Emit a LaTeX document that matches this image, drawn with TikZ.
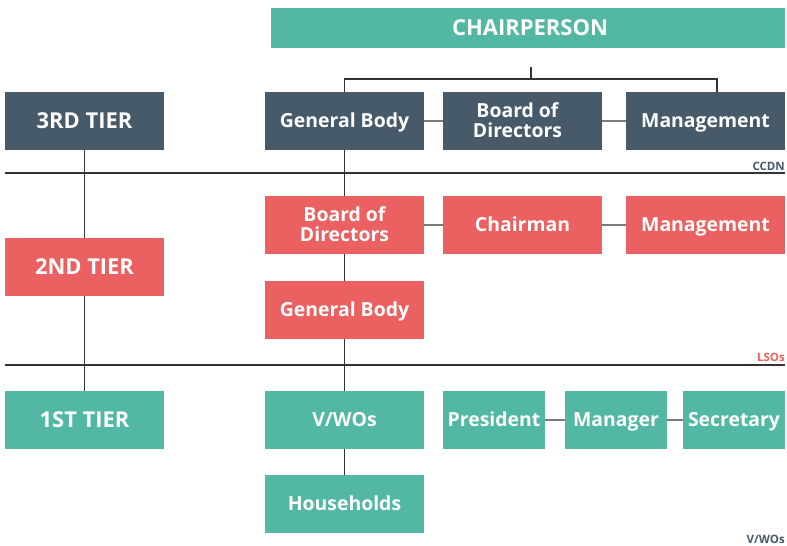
\documentclass[tikz,border=0pt]{standalone}
\usepackage{fontspec}
\setmainfont{Open Sans}
\usetikzlibrary{backgrounds}
\definecolor{slate}{HTML}{475A69}
\definecolor{coral}{HTML}{EB6060}
\definecolor{teal}{HTML}{52B8A3}
\definecolor{rule}{HTML}{333333}
\definecolor{link}{HTML}{7A7A7A}
\begin{document}
\begin{tikzpicture}[x=1pt,y=-1pt,
  box/.style={minimum height=58pt,inner sep=0pt,text=white,align=center,
    font=\fontsize{19.4}{20}\selectfont\bfseries,text height=13.9pt,text depth=0pt},
  twoline/.style={text height=33.9pt},
  tier/.style={box,minimum width=159pt,font=\fontsize{21.9}{22}\selectfont\bfseries,text height=15.6pt},
  wide/.style={box,minimum width=159pt},
  narrow/.style={box,minimum width=102pt},
  tree/.style={draw=rule,line width=1.2pt},
  peer/.style={draw=link,line width=1.6pt},
  level/.style={anchor=base east,inner sep=0pt,font=\fontsize{11.5}{12}\selectfont\bfseries}]
\useasboundingbox (0,0) rectangle (787,546);

% top
\node[box,fill=teal,minimum width=514pt,minimum height=40pt,
      font=\fontsize{22}{22}\selectfont\bfseries,text height=15.7pt] (chair) at (528,28) {\hspace*{4pt}CHAIRPERSON};

% third tier
\node[tier,fill=slate] (t3) at (84.5,121) {3RD TIER};
\node[wide,fill=slate] (gb3) at (344.5,121) {General Body};
\node[wide,twoline,fill=slate] (bd3) at (522.5,121) {\hspace*{-10pt}Board of\\\hspace*{-10pt}Directors};
\node[wide,fill=slate] (mg3) at (705.5,121) {Management};

% second tier
\node[tier,fill=coral] (t2) at (84.5,267) {2ND TIER};
\node[wide,twoline,fill=coral] (bd2) at (344.5,225) {Board of\\Directors};
\node[wide,fill=coral] (ch2) at (522.5,225) {Chairman};
\node[wide,fill=coral] (mg2) at (705.5,225) {Management};
\node[wide,fill=coral] (gb2) at (344.5,310) {General Body};

% first tier
\node[tier,fill=teal] (t1) at (84.5,420) {1ST TIER};
\node[wide,fill=teal] (vwo) at (344.5,420) {V/WOs};
\node[narrow,fill=teal] (pres) at (494,420) {President};
\node[narrow,fill=teal] (mgr) at (616,420) {Manager};
\node[narrow,fill=teal] (sec) at (734,420) {Secretary};
\node[wide,fill=teal] (hh) at (344.5,504) {Households};

% level labels
\node[level,text=slate] (lccdn) at (785,170) {CCDN};
\node[level,text=coral] (llso) at (785,361) {LSOs};
\node[level,text=slate] (lvwo) at (785,543) {V/WOs};

% level separators
\coordinate (ccdnL) at (5,173);
\coordinate (ccdnR) at (785,173);
\coordinate (lsoL) at (5,365);
\coordinate (lsoR) at (785,365);
\draw[tree] (ccdnL) -- (ccdnR);
\draw[tree] (lsoL) -- (lsoR);

% chairperson fork
\coordinate (tap) at (531,67);
\coordinate (fork) at (531,79);
\coordinate (mgdrop) at (717,92);
\draw[tree] (tap) -- (fork);
\draw[tree] (gb3.north) |- (fork) -| (mgdrop);

% peer links
\draw[peer] (gb3.east) -- (bd3.west);
\draw[peer] (bd3.east) -- (mg3.west);
\draw[peer] (bd2.east) -- (ch2.west);
\draw[peer] (ch2.east) -- (mg2.west);
\draw[peer] (pres.east) -- (mgr.west);
\draw[peer] (mgr.east) -- (sec.west);

% vertical spines
\begin{scope}[on background layer]
  \draw[tree] (t3.south) -- (t1.north);
  \draw[tree] (gb3.south) -- (hh.north);
\end{scope}
\end{tikzpicture}
\end{document}
